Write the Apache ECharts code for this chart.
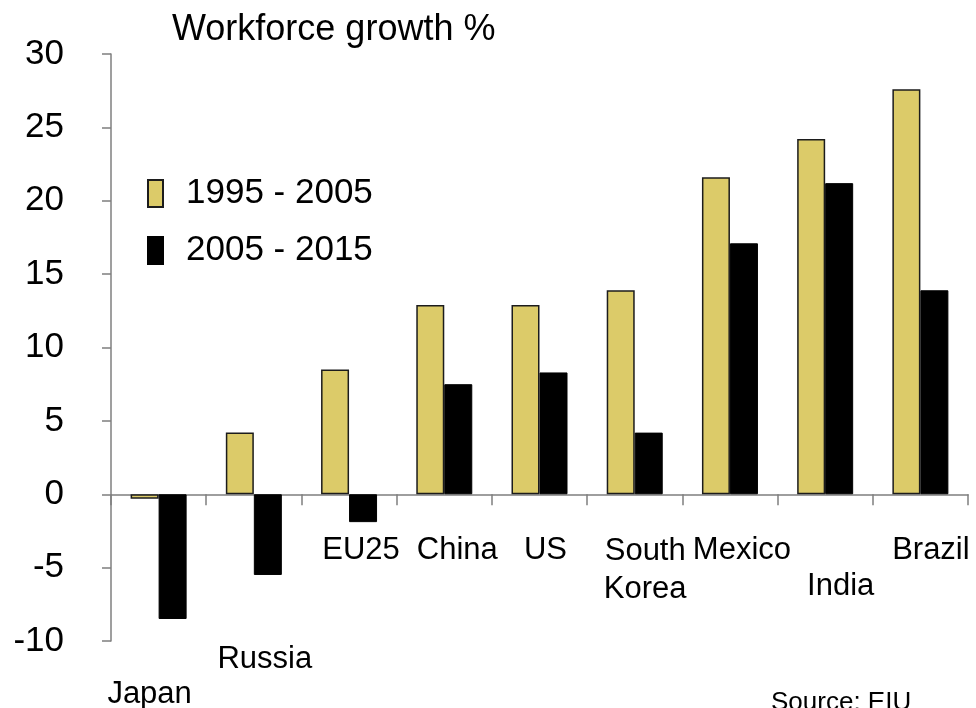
<!DOCTYPE html>
<html>
<head>
<meta charset="utf-8">
<title>Workforce growth %</title>
<script src="https://cdn.jsdelivr.net/npm/echarts@6/dist/echarts.min.js"></script>
<style>
  html, body { margin: 0; padding: 0; background: #ffffff; }
  #chart { width: 976px; height: 708px; }
</style>
</head>
<body>
<div id="chart"></div>
<script>
// Country groups along the x axis
var categories = ['Japan', 'Russia', 'EU25', 'China', 'US', 'South\nKorea', 'Mexico', 'India', 'Brazil'];

// Workforce growth, per cent
var growth1995to2005 = [-0.3, 4.2, 8.5, 12.9, 12.9, 13.9, 21.6, 24.2, 27.6];
var growth2005to2015 = [-8.5, -5.5, -1.9, 7.5, 8.3, 4.2, 17.1, 21.2, 13.9];

var seriesNames = ['1995 - 2005', '2005 - 2015'];

var FONT = '"Liberation Sans", Arial, Helvetica, sans-serif';
var AXIS_GREY = '#7f7f7f';

// Per-label offsets for the staggered category labels: [top, right, bottom, left]
// (text sits in the middle of its padded box, so each offset moves it by half)
var labelPads = [
  [288, 18, 0, 0],
  [218, 0, 0, 22],
  [0, 0, 0, 24],
  [0, 0, 0, 26],
  [0, 0, 0, 12],
  [0, 0, 0, 21],
  [0, 0, 0, 24],
  [72, 0, 0, 31],
  [0, 0, 0, 21]
];

var rich = {};
labelPads.forEach(function (p, i) {
  rich['c' + i] = {
    fontFamily: FONT,
    fontSize: 31,
    color: '#000',
    lineHeight: i === 5 ? 38 : 36,
    padding: p
  };
});

var chart = echarts.init(document.getElementById('chart'), null, { renderer: 'canvas' });

chart.setOption({
  animation: false,
  backgroundColor: '#ffffff',
  title: {
    text: 'Workforce growth %',
    left: 167,
    top: 7,
    textStyle: { fontFamily: FONT, fontSize: 36, fontWeight: 'normal', color: '#000' }
  },
  legend: {
    orient: 'vertical',
    left: 147,
    top: 176,
    itemWidth: 15,
    itemHeight: 27,
    itemGap: 22,
    padding: 0,
    icon: 'rect',
    data: seriesNames,
    textStyle: {
      fontFamily: FONT,
      fontSize: 35,
      color: '#000',
      padding: [0, 0, 0, 18]
    }
  },
  grid: { left: 111, right: 8, top: 54, bottom: 67, containLabel: false, outerBoundsMode: 'none' },
  xAxis: {
    type: 'category',
    data: categories,
    boundaryGap: true,
    axisLine: { show: true, onZero: true, lineStyle: { color: AXIS_GREY, width: 1.5 } },
    axisTick: { show: true, alignWithLabel: false, length: 11, lineStyle: { color: AXIS_GREY, width: 1.5 } },
    axisLabel: {
      interval: 0,
      hideOverlap: false,
      margin: -109,
      formatter: function (value, idx) {
        return '{c' + idx + '|' + value + '}';
      },
      rich: rich
    },
    splitLine: { show: false }
  },
  yAxis: {
    type: 'value',
    min: -10,
    max: 30,
    interval: 5,
    axisLine: { show: true, lineStyle: { color: AXIS_GREY, width: 1.5 } },
    axisTick: { show: true, inside: false, length: 9, lineStyle: { color: AXIS_GREY, width: 1.5 } },
    axisLabel: { margin: 47, fontFamily: FONT, fontSize: 35, color: '#000' },
    splitLine: { show: false }
  },
  series: [
    {
      name: seriesNames[0],
      type: 'bar',
      data: growth1995to2005,
      barWidth: 28,
      barGap: '0%',
      itemStyle: { color: '#DCCB69', borderColor: '#1c1c1c', borderWidth: 1.5 }
    },
    {
      name: seriesNames[1],
      type: 'bar',
      data: growth2005to2015,
      barWidth: 28,
      barGap: '0%',
      itemStyle: { color: '#000000', borderColor: '#000000', borderWidth: 1 }
    }
  ],
  graphic: [
    {
      type: 'text',
      left: 771,
      top: 690,
      style: { text: 'Source: EIU', font: '26px ' + FONT, fill: '#000' }
    }
  ]
});
</script>
</body>
</html>
